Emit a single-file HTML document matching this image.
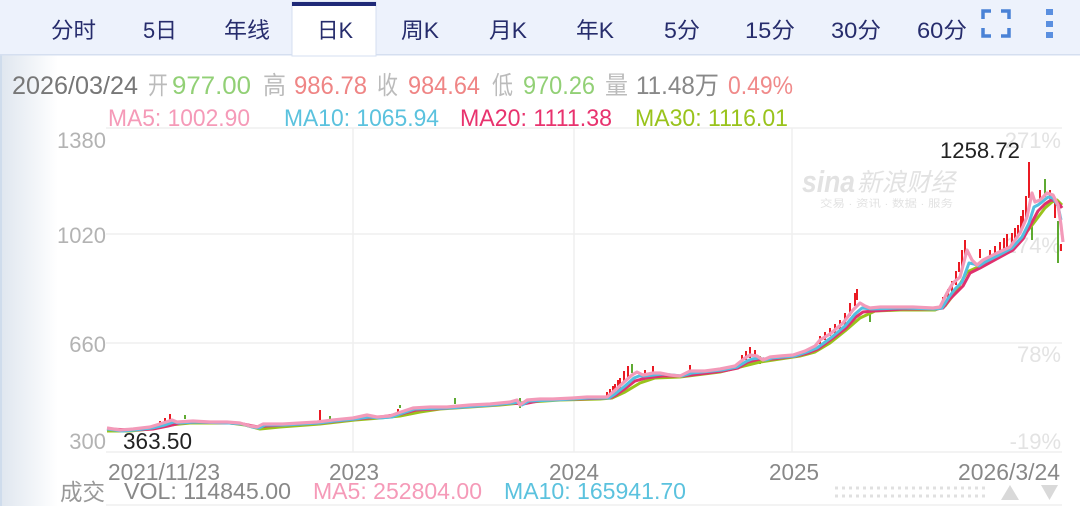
<!DOCTYPE html>
<html><head><meta charset="utf-8"><style>
html,body{margin:0;padding:0;background:#fff;}
svg{display:block;}
text{font-family:"Liberation Sans","Noto Sans CJK SC",sans-serif;}
</style></head><body>
<svg width="1080" height="506" viewBox="0 0 1080 506" xmlns="http://www.w3.org/2000/svg">
<defs>
<linearGradient id="lg" x1="0" y1="0" x2="1" y2="0">
<stop offset="0" stop-color="#dfe6ef"/><stop offset="1" stop-color="#ffffff"/>
</linearGradient>
</defs>
<rect width="1080" height="506" fill="#fff"/>
<rect x="0" y="55" width="58" height="451" fill="url(#lg)"/>
<rect x="0" y="55" width="2" height="451" fill="#cfdcec"/>
<rect x="0" y="0" width="1080" height="55" fill="#edf2fc"/>
<rect x="0" y="54" width="1080" height="1.5" fill="#d5dff0"/>
<rect x="292" y="2" width="84" height="54" fill="#fff" stroke="#d5dff0" stroke-width="1"/>
<rect x="292" y="2" width="84" height="4" fill="#1f2a78"/>
<g fill="#262c6c" font-size="22">
<text x="51" y="38" textLength="45" lengthAdjust="spacingAndGlyphs">分时</text>
<text x="143" y="38" textLength="34" lengthAdjust="spacingAndGlyphs">5日</text>
<text x="224" y="38" textLength="46" lengthAdjust="spacingAndGlyphs">年线</text>
<text x="317" y="38" textLength="36" lengthAdjust="spacingAndGlyphs">日K</text>
<text x="401" y="38" textLength="38" lengthAdjust="spacingAndGlyphs">周K</text>
<text x="489" y="38" textLength="38" lengthAdjust="spacingAndGlyphs">月K</text>
<text x="576" y="38" textLength="38" lengthAdjust="spacingAndGlyphs">年K</text>
<text x="664" y="38" textLength="36" lengthAdjust="spacingAndGlyphs">5分</text>
<text x="745" y="38" textLength="50" lengthAdjust="spacingAndGlyphs">15分</text>
<text x="831" y="38" textLength="50" lengthAdjust="spacingAndGlyphs">30分</text>
<text x="917" y="38" textLength="50" lengthAdjust="spacingAndGlyphs">60分</text>
</g>
<g fill="none" stroke="#4a82d6" stroke-width="3.5">
<path d="M983,19 V11 H991"/><path d="M1001,11 H1009 V19"/>
<path d="M983,28 V36 H991"/><path d="M1001,36 H1009 V28"/>
</g>
<g fill="#5a8fe0">
<rect x="1046" y="9" width="7" height="6"/><rect x="1046" y="21" width="7" height="6"/><rect x="1046" y="32" width="7" height="6"/>
</g>
<g font-size="25">
<text x="12" y="94" fill="#777" textLength="126" lengthAdjust="spacingAndGlyphs">2026/03/24</text>
<text x="148" y="94" fill="#bbb" textLength="20" lengthAdjust="spacingAndGlyphs">开</text>
<text x="172" y="94" fill="#92d076" textLength="79" lengthAdjust="spacingAndGlyphs">977.00</text>
<text x="263" y="94" fill="#bbb" textLength="23" lengthAdjust="spacingAndGlyphs">高</text>
<text x="294" y="94" fill="#ef8585" textLength="73" lengthAdjust="spacingAndGlyphs">986.78</text>
<text x="377" y="94" fill="#bbb" textLength="21" lengthAdjust="spacingAndGlyphs">收</text>
<text x="408" y="94" fill="#ef8585" textLength="72" lengthAdjust="spacingAndGlyphs">984.64</text>
<text x="492" y="94" fill="#bbb" textLength="21" lengthAdjust="spacingAndGlyphs">低</text>
<text x="523" y="94" fill="#92d076" textLength="72" lengthAdjust="spacingAndGlyphs">970.26</text>
<text x="605" y="94" fill="#bbb" textLength="23" lengthAdjust="spacingAndGlyphs">量</text>
<text x="636" y="94" fill="#888" textLength="83" lengthAdjust="spacingAndGlyphs">11.48万</text>
<text x="728" y="94" fill="#f08a8a" textLength="65" lengthAdjust="spacingAndGlyphs">0.49%</text>
</g>
<g font-size="24">
<text x="108" y="126" fill="#f59ab8" textLength="142" lengthAdjust="spacingAndGlyphs">MA5: 1002.90</text>
<text x="284" y="126" fill="#5bc2de" textLength="155" lengthAdjust="spacingAndGlyphs">MA10: 1065.94</text>
<text x="460" y="126" fill="#e8336e" textLength="152" lengthAdjust="spacingAndGlyphs">MA20: 1111.38</text>
<text x="635" y="126" fill="#99c31c" textLength="153" lengthAdjust="spacingAndGlyphs">MA30: 1116.01</text>
</g>
<g stroke="#efefef" stroke-width="1.5">
<line x1="106" y1="128" x2="1062" y2="128"/>
<line x1="106" y1="234" x2="1062" y2="234"/>
<line x1="106" y1="343" x2="1062" y2="343"/>
<line x1="106" y1="452" x2="1062" y2="452"/>
<line x1="353" y1="128" x2="353" y2="452"/>
<line x1="574" y1="128" x2="574" y2="452"/>
<line x1="792" y1="128" x2="792" y2="452"/>
<line x1="106" y1="505" x2="1062" y2="505"/>
</g>
<g fill="#b3b3b3" font-size="22" text-anchor="end">
<text x="106" y="148">1380</text>
<text x="106" y="243">1020</text>
<text x="106" y="352">660</text>
<text x="106" y="449">300</text>
</g>
<g fill="#e3e3e3" font-size="22" text-anchor="end">
<text x="1061" y="148">271%</text>
<text x="1061" y="253">174%</text>
<text x="1061" y="362">78%</text>
<text x="1061" y="449">-19%</text>
</g>
<g fill="#e2e2e2">
<text x="802" y="192" font-size="31" font-style="italic" font-weight="bold" textLength="53" lengthAdjust="spacingAndGlyphs">sina</text>
<text x="857" y="191" font-size="25" font-style="italic" textLength="98" lengthAdjust="spacingAndGlyphs">新浪财经</text>
<text x="820" y="207" font-size="10" textLength="133" lengthAdjust="spacingAndGlyphs">交易 · 资讯 · 数据 · 服务</text>
</g>
<g stroke="#e8000b" stroke-width="1.8">
<line x1="160" y1="421" x2="160" y2="425"/>
<line x1="165" y1="418" x2="165" y2="424"/>
<line x1="170" y1="414" x2="170" y2="421"/>
<line x1="320" y1="410" x2="320" y2="422"/>
<line x1="398" y1="409" x2="398" y2="416"/>
<line x1="607" y1="392" x2="607" y2="398"/>
<line x1="610" y1="389" x2="610" y2="397"/>
<line x1="613" y1="386" x2="613" y2="395"/>
<line x1="615" y1="384" x2="615" y2="394"/>
<line x1="618" y1="380" x2="618" y2="391"/>
<line x1="620" y1="378" x2="620" y2="389"/>
<line x1="624" y1="371" x2="624" y2="383"/>
<line x1="628" y1="366" x2="628" y2="379"/>
<line x1="645" y1="370" x2="645" y2="376"/>
<line x1="653" y1="366" x2="653" y2="373"/>
<line x1="690" y1="365" x2="690" y2="372"/>
<line x1="742" y1="355" x2="742" y2="362"/>
<line x1="746" y1="351" x2="746" y2="360"/>
<line x1="750" y1="347" x2="750" y2="358"/>
<line x1="755" y1="350" x2="755" y2="356"/>
<line x1="820" y1="336" x2="820" y2="344"/>
<line x1="825" y1="332" x2="825" y2="340"/>
<line x1="830" y1="328" x2="830" y2="336"/>
<line x1="835" y1="324" x2="835" y2="334"/>
<line x1="840" y1="320" x2="840" y2="330"/>
<line x1="845" y1="313" x2="845" y2="325"/>
<line x1="850" y1="303" x2="850" y2="316"/>
<line x1="855" y1="293" x2="855" y2="306"/>
<line x1="857" y1="289" x2="857" y2="300"/>
<line x1="943" y1="297" x2="943" y2="306"/>
<line x1="948" y1="289" x2="948" y2="299"/>
<line x1="952" y1="281" x2="952" y2="292"/>
<line x1="956" y1="271" x2="956" y2="285"/>
<line x1="959" y1="262" x2="959" y2="272"/>
<line x1="962" y1="250" x2="962" y2="268"/>
<line x1="965" y1="240" x2="965" y2="260"/>
<line x1="980" y1="249" x2="980" y2="258"/>
<line x1="990" y1="250" x2="990" y2="258"/>
<line x1="995" y1="246" x2="995" y2="255"/>
<line x1="1000" y1="242" x2="1000" y2="252"/>
<line x1="1004" y1="238" x2="1004" y2="249"/>
<line x1="1007" y1="234" x2="1007" y2="247"/>
<line x1="1012" y1="233" x2="1012" y2="243"/>
<line x1="1015" y1="228" x2="1015" y2="240"/>
<line x1="1018" y1="225" x2="1018" y2="237"/>
<line x1="1021" y1="216" x2="1021" y2="232"/>
<line x1="1023" y1="210" x2="1023" y2="228"/>
<line x1="1026" y1="196" x2="1026" y2="218"/>
<line x1="1029" y1="162" x2="1029" y2="198"/>
<line x1="1040" y1="190" x2="1040" y2="200"/>
<line x1="1050" y1="190" x2="1050" y2="199"/>
<line x1="1055" y1="202" x2="1055" y2="218"/>
<line x1="1061" y1="244" x2="1061" y2="251"/>
</g>
<g stroke="#4da11b" stroke-width="1.8">
<line x1="185" y1="415" x2="185" y2="419"/>
<line x1="330" y1="416" x2="330" y2="420"/>
<line x1="400" y1="405" x2="400" y2="408"/>
<line x1="455" y1="398" x2="455" y2="404"/>
<line x1="520" y1="398" x2="520" y2="408"/>
<line x1="632" y1="364" x2="632" y2="373"/>
<line x1="760" y1="356" x2="760" y2="364"/>
<line x1="870" y1="308" x2="870" y2="322"/>
<line x1="930" y1="259" x2="930" y2="266" stroke-opacity="0"/>
<line x1="1032" y1="225" x2="1032" y2="240"/>
<line x1="1045" y1="179" x2="1045" y2="197"/>
<line x1="1058" y1="221" x2="1058" y2="263"/>
</g>
<polyline fill="none" stroke="#99c31c" stroke-width="3" stroke-linejoin="round" points="107,431 130,431 150,429 170,425 190,423 230,423 245,425 260,429 280,427 320,424 355,420 380,418 400,416 420,412 440,409 470,407 500,405 530,402 560,400 600,399 612,398 625,392 640,383 655,378 680,377 720,372 740,367 760,362 780,359 800,356 815,352 830,343 845,331 860,318 875,311 900,310 935,310 945,306 955,293 967,272 987,263 1005,254 1017,244 1033,224 1045,208 1052,202 1057,200 1062,205"/>
<polyline transform="translate(3,1)" fill="none" stroke="#e0306e" stroke-width="3" stroke-linejoin="round" points="104,428 133,429 150,428 165,425 177,422 193,421 227,422 240,423 255,426 263,425 283,424 317,422 353,418 377,416 398,413 413,409 447,407 490,404 510,402 520,403 540,399 573,398 607,397 613,394 623,387 632,380 643,377 660,375 680,375 705,372 720,370 735,367 745,361 757,358 770,358 793,355 805,352 815,348 830,337 843,327 853,316 860,311 870,310 900,308 933,308 940,307 947,298 960,285 967,272 977,267 997,256 1010,249 1020,238 1027,225 1035,210 1042,203 1048,199 1053,200 1057,204 1059,207"/>
<polyline transform="translate(2,1)" fill="none" stroke="#53bfe0" stroke-width="3" stroke-linejoin="round" points="105,428 120,430 133,429 150,427 163,424 172,421 177,422 193,421 227,422 240,423 250,426 257,427 263,424 283,424 317,422 333,420 353,418 367,416 377,417 390,416 398,413 413,408 447,407 490,404 510,402 517,401 520,404 527,400 553,399 587,397 607,397 613,393 623,385 632,377 637,375 643,375 660,373 680,375 690,372 720,369 735,366 745,360 750,358 757,357 763,359 770,357 793,355 805,351 815,347 830,336 843,325 853,313 860,307 870,308 900,307 933,308 940,307 947,296 953,288 960,281 967,262 972,263 977,265 983,261 997,254 1010,247 1020,236 1027,222 1032,206 1036,204 1040,201 1046,196 1051,197 1056,205 1059,219"/>
<polyline fill="none" stroke="#f39ab9" stroke-width="3.2" stroke-linejoin="round" points="107,428 120,430 133,429 150,427 163,423 172,420 177,422 193,421 210,422 227,422 240,423 250,426 257,427 263,424 283,424 300,423 317,422 333,420 353,418 367,415 377,417 390,416 398,413 413,408 430,407 447,407 470,405 490,404 510,402 517,400 520,405 527,400 540,399 553,399 573,398 587,397 607,397 613,392 623,383 632,375 637,372 643,375 653,373 660,373 670,375 680,376 690,371 705,371 720,369 735,366 745,358 750,355 757,356 763,360 770,357 780,356 793,355 805,351 815,346 820,340 830,334 843,323 853,310 860,303 865,306 870,308 880,307 900,307 913,307 933,308 940,307 947,293 953,283 960,277 967,250 972,260 977,265 983,260 997,253 1010,247 1020,233 1027,217 1032,193 1035,202 1040,200 1047,193 1053,195 1058,205 1061,225 1063,242"/>
<text x="940" y="158" fill="#222" font-size="22" textLength="80" lengthAdjust="spacingAndGlyphs">1258.72</text>
<text x="123" y="449" fill="#222" font-size="23" textLength="69" lengthAdjust="spacingAndGlyphs">363.50</text>
<g fill="#888" font-size="23">
<text x="108" y="480" textLength="112" lengthAdjust="spacingAndGlyphs">2021/11/23</text>
<text x="329" y="480" textLength="50" lengthAdjust="spacingAndGlyphs">2023</text>
<text x="549" y="480" textLength="50" lengthAdjust="spacingAndGlyphs">2024</text>
<text x="769" y="480" textLength="50" lengthAdjust="spacingAndGlyphs">2025</text>
<text x="958" y="480" textLength="102" lengthAdjust="spacingAndGlyphs">2026/3/24</text>
</g>
<g font-size="23">
<text x="60" y="500" fill="#999" textLength="45" lengthAdjust="spacingAndGlyphs">成交</text>
<text x="124" y="499" fill="#888" textLength="167" lengthAdjust="spacingAndGlyphs">VOL: 114845.00</text>
<text x="313" y="499" fill="#f59ab8" textLength="169" lengthAdjust="spacingAndGlyphs">MA5: 252804.00</text>
<text x="504" y="499" fill="#5bc2de" textLength="182" lengthAdjust="spacingAndGlyphs">MA10: 165941.70</text>
</g>
<g stroke="#e0e0e0" stroke-width="3" stroke-dasharray="3 4">
<line x1="835" y1="488" x2="985" y2="488"/>
<line x1="835" y1="496" x2="985" y2="496"/>
</g>
<polygon points="1010,485 1019,500 1001,500" fill="#d9d9d9"/>
<polygon points="1041,485 1058,485 1049.5,500" fill="#d9d9d9"/>
</svg>
</body></html>
